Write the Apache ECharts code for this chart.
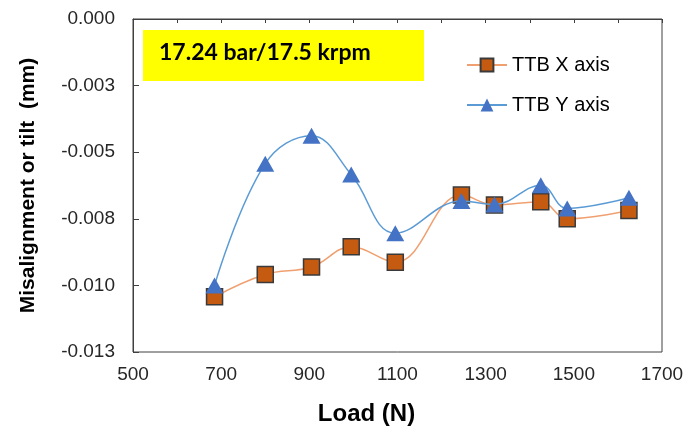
<!DOCTYPE html>
<html>
<head>
<meta charset="utf-8">
<script src="https://cdn.jsdelivr.net/npm/echarts@6/dist/echarts.min.js"></script>
<style>
	html, body { margin: 0; padding: 0; background: #fff; }
	#chart { width: 689px; height: 431px; }
</style>
</head>
<body>
<div id="chart"></div>
<script>
// data
var loadX = [685, 800, 905, 995, 1095, 1245, 1320, 1425, 1485, 1625];
var ttbX = [-0.01043, -0.00959, -0.00931, -0.00855, -0.00913, -0.00661, -0.00698, -0.00686, -0.00750, -0.00719];
var ttbY = [-0.01000, -0.00543, -0.00438, -0.00584, -0.00804, -0.00683, -0.00696, -0.00624, -0.00711, -0.00671];
var yTickLabels = ['-0.013', '-0.010', '-0.008', '-0.005', '-0.003', '0.000'];
var xTicks = [500, 700, 900, 1100, 1300, 1500, 1700];

function pairs(xs, ys) {
	var out = [];
	for (var i = 0; i < xs.length; i++) {
		out.push([xs[i], ys[i]]);
	}
	return out;
}

var chart = echarts.init(document.getElementById('chart'));

var option = {
	animation: false,
	grid: {
		left: 133,
		right: 27,
		top: 19,
		bottom: 76,
		show: true,
		borderColor: '#404040',
		borderWidth: 1
	},
	legend: {
		orient: 'vertical',
		left: 461,
		top: 50,
		itemWidth: 40,
		itemHeight: 16,
		itemGap: 20,
		textStyle: {
			fontFamily: 'Liberation Sans',
			fontSize: 20,
			color: '#000'
		},
		data: ['TTB X axis', 'TTB Y axis']
	},
	xAxis: [{
		type: 'value',
		min: 500,
		max: 1700,
		interval: 200,
		name: 'Load (N)',
		nameLocation: 'middle',
		nameGap: 50,
		nameTextStyle: {
			fontFamily: 'Liberation Sans',
			fontSize: 24,
			fontWeight: 'bold',
			color: '#000',
			padding: [0, 62, 0, 0]
		},
		axisLine: { show: true, lineStyle: { color: '#404040' } },
		axisTick: { show: false },
		splitLine: { show: false },
		axisLabel: {
			margin: 13,
			fontFamily: 'Liberation Sans',
			fontSize: 19,
			color: '#262626',
			formatter: function(v) {
				return xTicks.indexOf(v) >= 0 ? String(v) : '';
			}
		}
	}, {
		type: 'value',
		position: 'top',
		min: 500,
		max: 1700,
		interval: 100,
		axisLine: { show: false },
		axisTick: { show: true, inside: true, length: 4, lineStyle: { color: '#404040' } },
		axisLabel: { show: false },
		splitLine: { show: false }
	}],
	yAxis: {
		type: 'value',
		min: -0.0125,
		max: 0,
		interval: 0.0025,
		name: 'Misalignment or tilt  (mm)',
		nameLocation: 'middle',
		nameGap: 94,
		nameTextStyle: {
			fontFamily: 'Liberation Sans',
			fontSize: 21,
			fontWeight: 'bold',
			color: '#000'
		},
		axisLine: { show: true, lineStyle: { color: '#404040' } },
		axisTick: { show: true, inside: true, length: 6, lineStyle: { color: '#404040' } },
		splitLine: { show: false },
		axisLabel: {
			margin: 18,
			fontFamily: 'Liberation Sans',
			fontSize: 19,
			color: '#262626',
			formatter: function(v, idx) {
				return yTickLabels[idx];
			}
		}
	},
	graphic: [{
		type: 'rect',
		left: 143,
		top: 30,
		shape: { width: 281, height: 51 },
		style: { fill: '#ffff00' },
		z: 0
	}, {
		type: 'text',
		left: 159,
		top: 41,
		style: {
			text: '17.24 bar/17.5 krpm',
			font: 'bold 23px Lato',
			fill: '#000'
		},
		z: 1
	}],
	series: [{
		name: 'TTB X axis',
		type: 'line',
		smooth: 0.4,
		data: pairs(loadX, ttbX),
		symbol: 'rect',
		symbolSize: 16,
		lineStyle: { color: '#F0A070', width: 1.5 },
		itemStyle: { color: '#C55A11', borderColor: '#3a3a3a', borderWidth: 1.5 },
		z: 3
	}, {
		name: 'TTB Y axis',
		type: 'line',
		smooth: 0.4,
		data: pairs(loadX, ttbY),
		symbol: 'triangle',
		symbolSize: [18, 16],
		lineStyle: { color: '#5B9BD5', width: 1.5 },
		itemStyle: { color: '#4472C4' },
		z: 4
	}]
};

chart.setOption(option);
</script>
</body>
</html>
